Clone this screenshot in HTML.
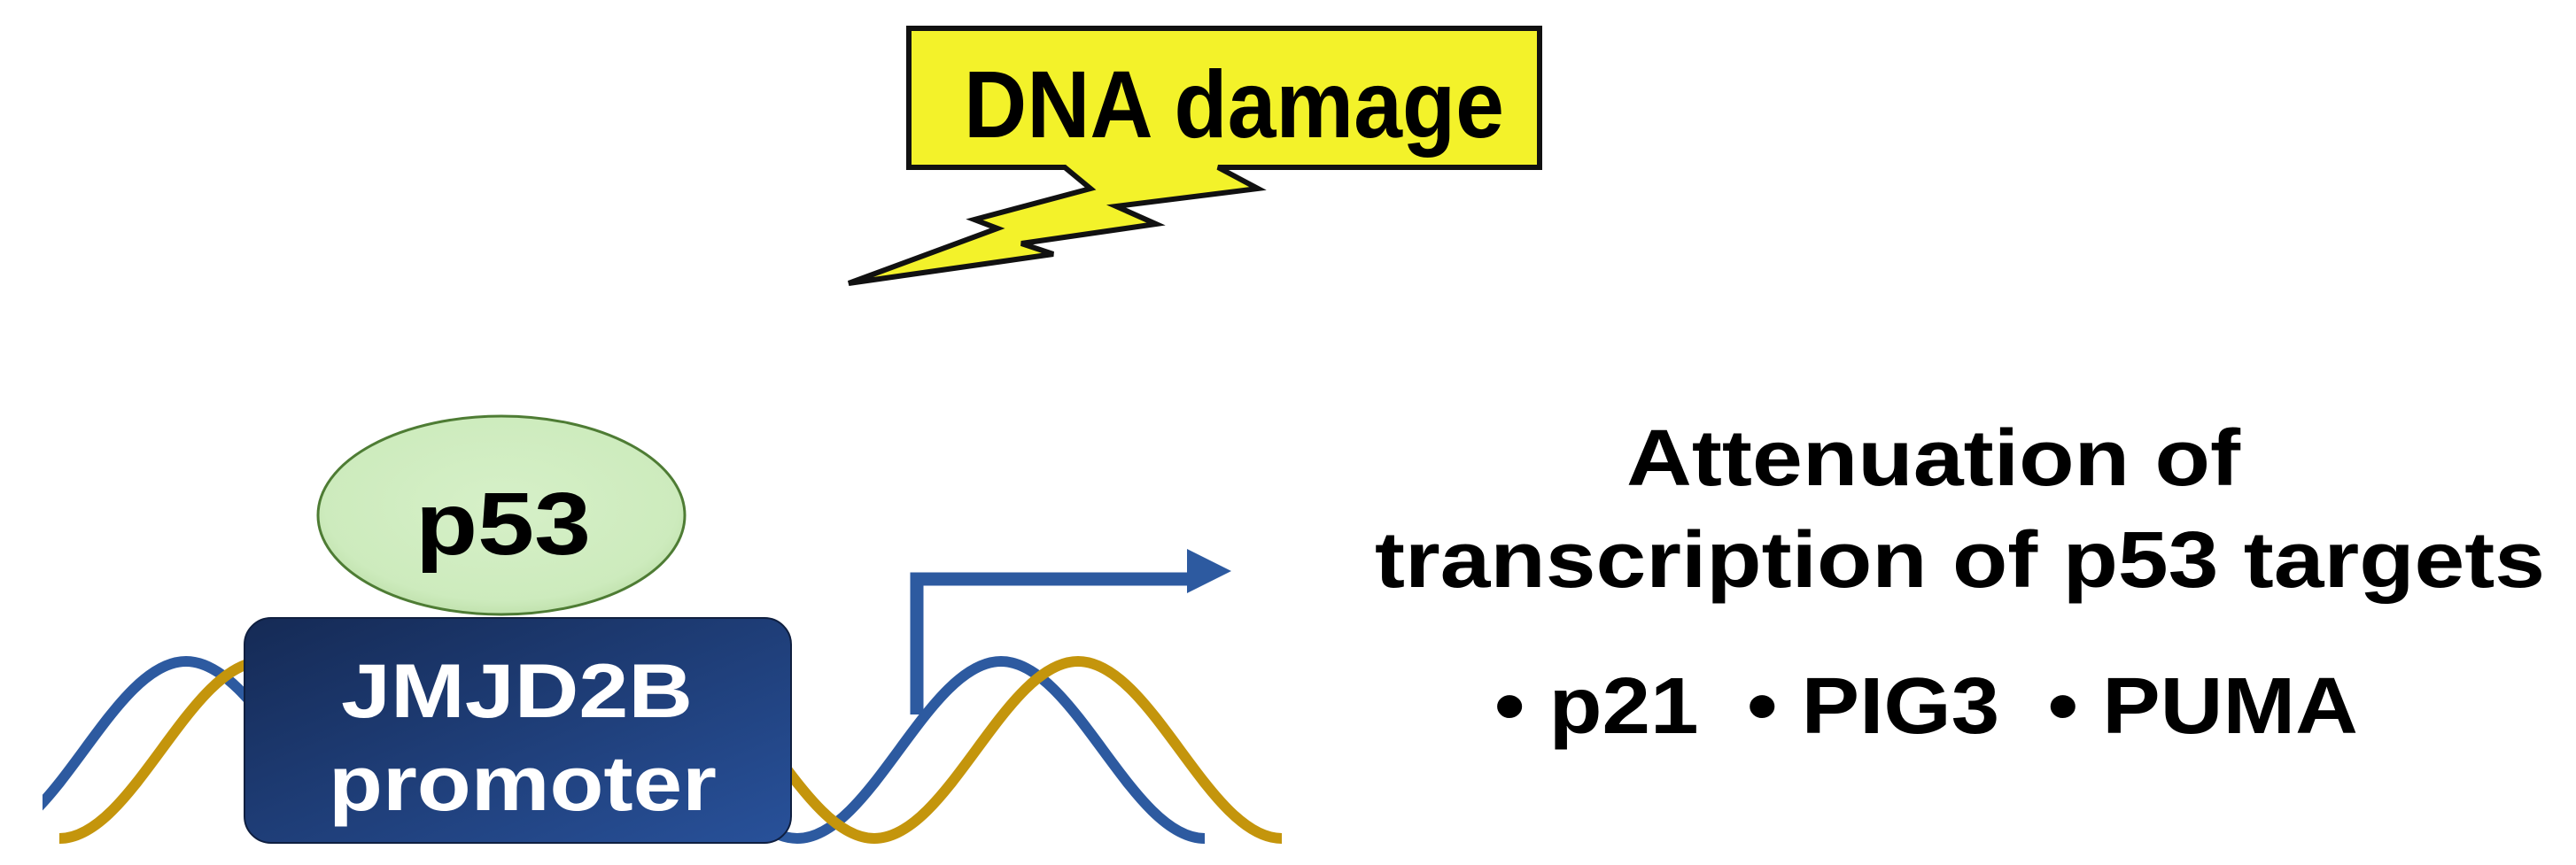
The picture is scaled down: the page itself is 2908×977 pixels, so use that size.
<!DOCTYPE html>
<html><head><meta charset="utf-8"><style>html,body{margin:0;padding:0;background:#fff}svg{display:block}</style></head>
<body>
<svg width="2908" height="977" viewBox="0 0 2908 977" xmlns="http://www.w3.org/2000/svg" font-family="Liberation Sans, Arial, sans-serif" font-weight="bold">
<defs>
<linearGradient id="bx" x1="0" y1="0" x2="1" y2="1"><stop offset="0" stop-color="#152a55"/><stop offset="1" stop-color="#28519a"/></linearGradient>
<radialGradient id="el" cx="0.5" cy="0.45" r="0.6"><stop offset="0" stop-color="#d6f0c8"/><stop offset="0.8" stop-color="#cdebbd"/><stop offset="1" stop-color="#b9dca4"/></radialGradient>
<clipPath id="cl"><rect x="48" y="0" width="2000" height="977"/></clipPath>
</defs>
<rect width="2908" height="977" fill="#fff"/>
<path d="M1026 32 L1738 32 L1738 189 L1375 189 L1420 213 L1260 233 L1305 253 L1153 275 L1189 287 L958 320 L1126 258 L1100 248 L1231 213 L1202 189 L1026 189 Z" fill="#f3f22a" stroke="#111" stroke-width="6" stroke-linejoin="miter"/>
<text x="1088" y="155" font-size="108" textLength="610" lengthAdjust="spacingAndGlyphs">DNA damage</text>
<g fill="none" stroke-width="12" clip-path="url(#cl)">
<path d="M -20 947 C 63 947 127 747 210 747 C 293 747 357 947 440 947 C 523 947 587 747 670 747 C 753 747 817 947 900 947 C 983 947 1047 747 1130 747 C 1213 747 1277 947 1360 947" stroke="#2d5aa0"/>
<path d="M 67 947 C 150 947 214 747 297 747 C 380 747 444 947 527 947 C 610 947 674 747 757 747 C 840 747 904 947 987 947 C 1070 947 1134 747 1217 747 C 1300 747 1364 947 1447 947" stroke="#c4950c"/>
</g>
<path d="M1035 807 L1035 654 L1345 654" fill="none" stroke="#2d5aa0" stroke-width="15"/>
<path d="M1340 620 L1390 645 L1340 670 Z" fill="#2d5aa0"/>
<rect x="276" y="698" width="617" height="254" rx="30" fill="url(#bx)" stroke="#0f1f40" stroke-width="2"/>
<text x="385" y="810" font-size="86" fill="#fff" textLength="397" lengthAdjust="spacingAndGlyphs">JMJD2B</text>
<text x="371" y="915" font-size="88" fill="#fff" textLength="438" lengthAdjust="spacingAndGlyphs">promoter</text>
<ellipse cx="566" cy="582" rx="207" ry="112" fill="url(#el)" stroke="#4e7c34" stroke-width="3"/>
<text x="469" y="626" font-size="100" textLength="198" lengthAdjust="spacingAndGlyphs">p53</text>
<text x="1836" y="548" font-size="90" textLength="693" lengthAdjust="spacingAndGlyphs">Attenuation of</text>
<text x="1552" y="663" font-size="90" textLength="1321" lengthAdjust="spacingAndGlyphs">transcription of p53 targets</text>
<text x="1687" y="828" font-size="90" textLength="975" lengthAdjust="spacingAndGlyphs" xml:space="preserve">• p21  • PIG3  • PUMA</text>
</svg>
</body></html>
